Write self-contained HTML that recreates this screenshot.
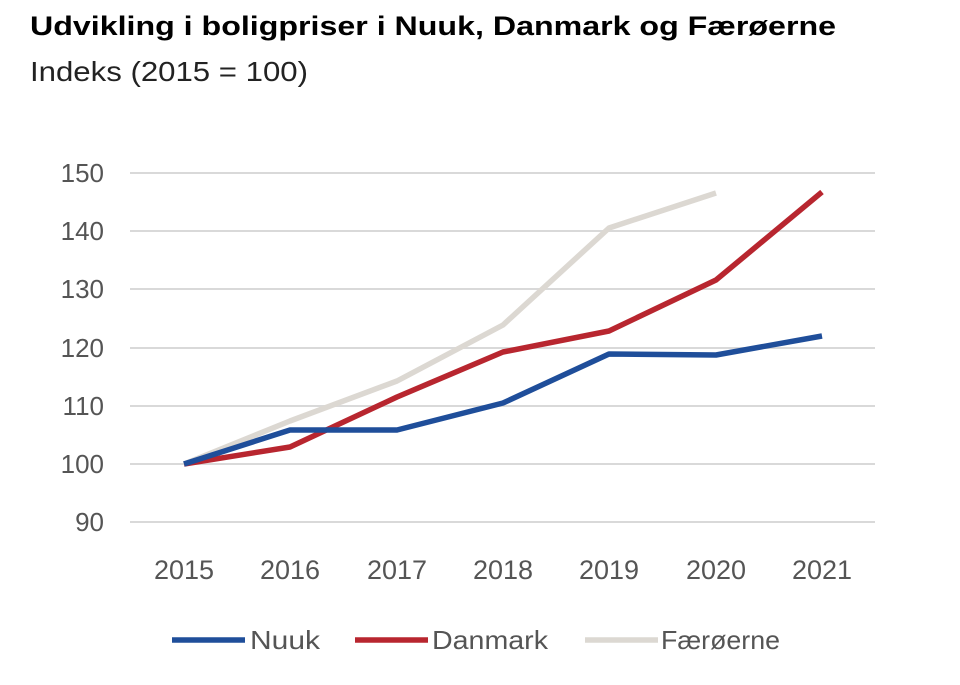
<!DOCTYPE html>
<html><head><meta charset="utf-8"><style>
body{margin:0;background:#fff;width:960px;height:680px;overflow:hidden;font-family:"Liberation Sans",sans-serif}
</style></head><body>
<svg width="960" height="680" xmlns="http://www.w3.org/2000/svg" font-family="Liberation Sans, sans-serif">
<text x="30" y="35" font-size="27" font-weight="bold" fill="#000" textLength="806" lengthAdjust="spacingAndGlyphs">Udvikling i boligpriser i Nuuk, Danmark og Færøerne</text>
<text x="30" y="81" font-size="28" fill="#222" textLength="278" lengthAdjust="spacingAndGlyphs">Indeks (2015 = 100)</text>
<g stroke="#d9d9d9" stroke-width="2">
<line x1="130" x2="875" y1="173" y2="173"/><line x1="130" x2="875" y1="231" y2="231"/>
<line x1="130" x2="875" y1="289" y2="289"/><line x1="130" x2="875" y1="348" y2="348"/>
<line x1="130" x2="875" y1="406" y2="406"/><line x1="130" x2="875" y1="464" y2="464"/>
<line x1="130" x2="875" y1="522" y2="522"/>
</g>
<g font-size="26" fill="#555" text-anchor="end">
<text x="104" y="182">150</text><text x="104" y="240">140</text><text x="104" y="298">130</text>
<text x="104" y="357">120</text><text x="104" y="415">110</text><text x="104" y="473">100</text><text x="104" y="531">90</text>
</g>
<g font-size="27" fill="#555" text-anchor="middle">
<text x="184" y="579">2015</text><text x="290" y="579">2016</text><text x="397" y="579">2017</text>
<text x="503" y="579">2018</text><text x="609" y="579">2019</text><text x="716" y="579">2020</text><text x="822" y="579">2021</text>
</g>
<g fill="none" stroke-width="5.5" stroke-linejoin="round">
<polyline stroke="#dcd8d2" points="184,464 290,421 397,381 503,325 609,228 716,193"/>
<polyline stroke="#b8262f" points="184,464 290,447 397,397 503,352 609,331 716,280 822,192"/>
<polyline stroke="#1f4e9a" points="184,464 290,430 397,430 503,403 609,354 716,355 822,336"/>
</g>
<line x1="172" x2="245" y1="640" y2="640" stroke="#1f4e9a" stroke-width="5.5"/>
<text x="250" y="649" font-size="26" fill="#555" textLength="70" lengthAdjust="spacingAndGlyphs">Nuuk</text>
<line x1="355" x2="428" y1="640" y2="640" stroke="#b8262f" stroke-width="5.5"/>
<text x="432" y="649" font-size="26" fill="#555" textLength="116" lengthAdjust="spacingAndGlyphs">Danmark</text>
<line x1="585" x2="658" y1="640" y2="640" stroke="#dcd8d2" stroke-width="5.5"/>
<text x="661" y="649" font-size="26" fill="#555" textLength="119" lengthAdjust="spacingAndGlyphs">Færøerne</text>
</svg>
</body></html>
